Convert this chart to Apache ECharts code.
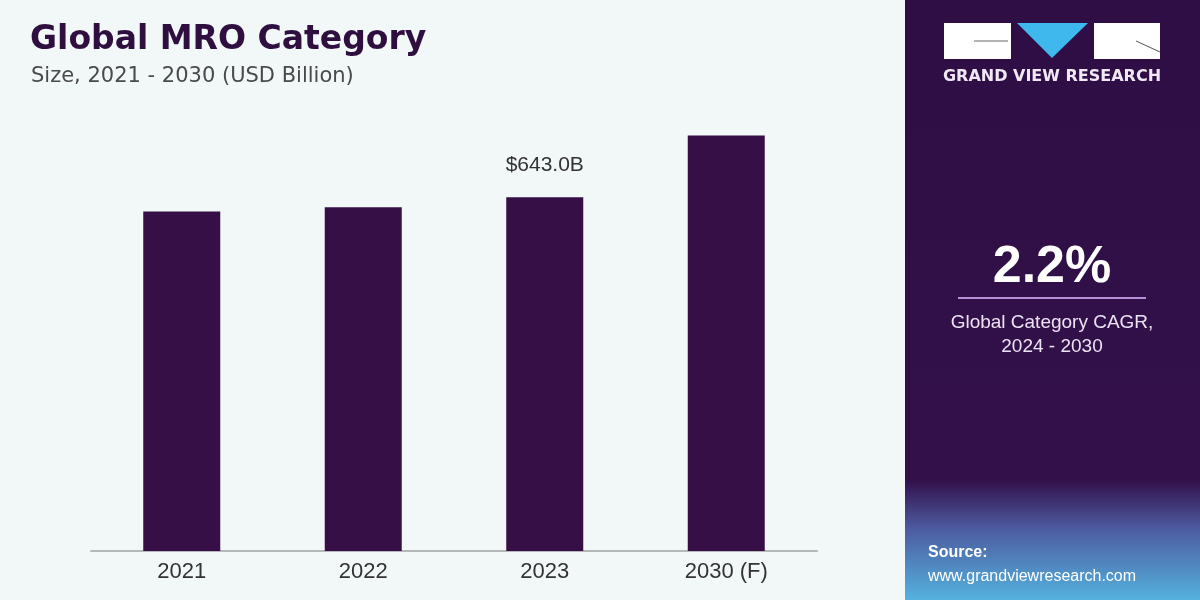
<!DOCTYPE html>
<html>
<head>
<meta charset="utf-8">
<script src="https://cdn.jsdelivr.net/npm/echarts@6/dist/echarts.min.js"></script>
<style>
  html, body { margin: 0; padding: 0; background: #f2f7f7; }
  #chart { width: 1200px; height: 600px; }
</style>
</head>
<body>
<div id="chart"></div>
<script>
// values (USD billion)
var categories = ['2021', '2022', '2023', '2030 (F)'];
var marketSize = [617.5, 624.8, 643.0, 755.5];
var labelIndex = 2; // only 2023 is labelled

var chart = echarts.init(document.getElementById('chart'));

var panelLeft = 905;

chart.setOption({
  backgroundColor: '#f2f7f7',
  animation: false,
  title: [
    {
      text: 'Global MRO Category',
      left: 25,
      top: 19,
      textStyle: { fontFamily: 'DejaVu Sans', fontSize: 33, fontWeight: 'bold', color: '#2e0f3f' }
    },
    {
      text: 'Size, 2021 - 2030 (USD Billion)',
      left: 26,
      top: 61,
      textStyle: { fontFamily: 'DejaVu Sans', fontSize: 21, fontWeight: 'normal', color: '#4a4a4a' }
    }
  ],
  grid: { left: 91, right: 383, top: 111, bottom: 49 },
  xAxis: {
    type: 'category',
    data: categories,
    axisTick: { show: false },
    axisLine: { lineStyle: { color: '#b4b8b8', width: 2 } },
    axisLabel: { fontFamily: 'Liberation Sans', fontSize: 22, color: '#333', margin: 10 }
  },
  yAxis: {
    type: 'value',
    min: 0,
    max: 800,
    show: false,
    splitLine: { show: false }
  },
  series: [
    {
      type: 'bar',
      data: marketSize.map(function (v, i) {
        return {
          value: v,
          label: {
            show: i === labelIndex,
            position: 'top',
            distance: 22,
            formatter: function (p) { return '$' + p.value.toFixed(1) + 'B'; },
            fontFamily: 'Liberation Sans',
            fontSize: 21,
            color: '#333'
          }
        };
      }),
      barWidth: 77,
      itemStyle: { color: '#370f47' }
    }
  ],
  graphic: [
    // right panel
    {
      type: 'rect',
      shape: { x: panelLeft, y: 0, width: 1200 - panelLeft, height: 600 },
      style: {
        fill: new echarts.graphic.LinearGradient(0, 0, 0, 1, [
          { offset: 0, color: '#2e0e44' },
          { offset: 0.8, color: '#33104a' },
          { offset: 0.88, color: '#4c5a9f' },
          { offset: 1, color: '#55b2de' }
        ])
      },
      z: 0
    },
    // logo
    { type: 'rect', shape: { x: 944, y: 23, width: 67, height: 36 }, style: { fill: '#ffffff' } },
    { type: 'polygon', shape: { points: [[1017, 23], [1088, 23], [1052, 58]] }, style: { fill: '#3fb8ee' } },
    { type: 'rect', shape: { x: 1094, y: 23, width: 66, height: 36 }, style: { fill: '#ffffff' } },
    { type: 'line', shape: { x1: 974, y1: 41, x2: 1008, y2: 41 }, style: { stroke: '#666', lineWidth: 1 } },
    { type: 'line', shape: { x1: 1136, y1: 41, x2: 1160, y2: 52 }, style: { stroke: '#555', lineWidth: 1 } },
    {
      type: 'text',
      x: 1052,
      y: 77,
      style: { text: 'GRAND VIEW RESEARCH', fill: '#f0e8f4', font: 'bold 16px "DejaVu Sans"', align: 'center', verticalAlign: 'middle' }
    },
    // CAGR block
    {
      type: 'text',
      x: 1052,
      y: 268,
      style: { text: '2.2%', fill: '#ffffff', font: 'bold 52px "Liberation Sans"', align: 'center', verticalAlign: 'middle' }
    },
    { type: 'line', shape: { x1: 958, y1: 298, x2: 1146, y2: 298 }, style: { stroke: '#b78fd6', lineWidth: 2 } },
    {
      type: 'text',
      x: 1052,
      y: 323,
      style: { text: 'Global Category CAGR,', fill: '#ece3f2', font: '19px "Liberation Sans"', align: 'center', verticalAlign: 'middle' }
    },
    {
      type: 'text',
      x: 1052,
      y: 347,
      style: { text: '2024 - 2030', fill: '#ece3f2', font: '19px "Liberation Sans"', align: 'center', verticalAlign: 'middle' }
    },
    // source
    {
      type: 'text',
      x: 928,
      y: 553,
      style: { text: 'Source:', fill: '#ffffff', font: 'bold 16px "Liberation Sans"', verticalAlign: 'middle' }
    },
    {
      type: 'text',
      x: 928,
      y: 577,
      style: { text: 'www.grandviewresearch.com', fill: '#ffffff', font: '16px "Liberation Sans"', verticalAlign: 'middle' }
    }
  ]
});
</script>
</body>
</html>
